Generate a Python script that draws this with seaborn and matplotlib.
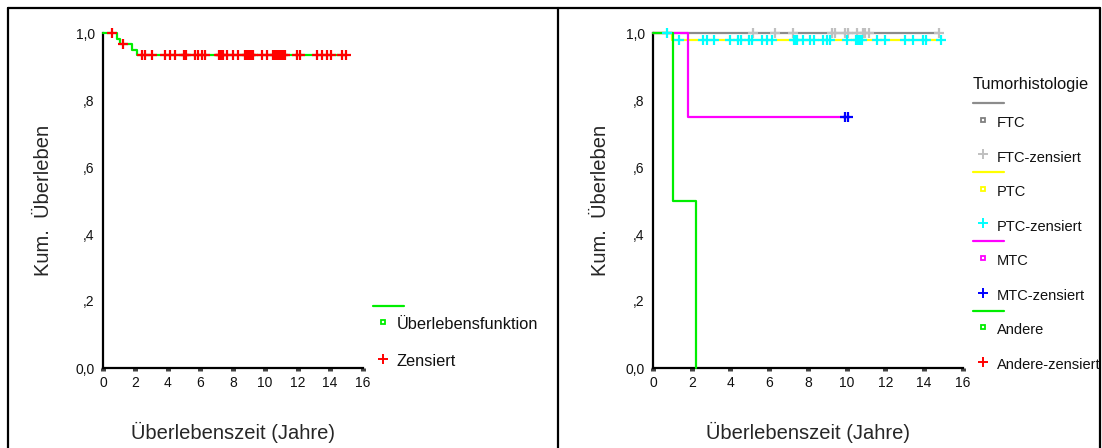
import numpy as np
import matplotlib
matplotlib.use("Agg")
import matplotlib.pyplot as plt
from matplotlib.lines import Line2D
import seaborn as sns

# ---------------- data ----------------
# Left panel: overall survival function (step points) and censored times
all_step_t = [0.0, 0.84, 1.05, 1.80, 2.07, 14.96]
all_step_s = [1.000, 0.983, 0.967, 0.950, 0.933, 0.933]
all_cens_t = [0.57, 1.25, 2.38, 2.60, 3.05, 3.82, 4.13, 4.44, 4.97, 5.03, 5.10,
              5.67, 5.88, 6.12, 6.29, 7.15, 7.22, 7.30, 7.38, 7.63, 8.03, 8.34,
              8.75, 8.85, 8.95, 9.05, 9.15, 9.25, 9.82, 10.09, 10.50, 10.60,
              10.70, 10.80, 10.90, 11.00, 11.10, 11.20, 11.94, 12.15, 13.17,
              13.48, 13.79, 14.06, 14.75, 14.96]

# Right panel: by tumour histology
groups = ["FTC", "PTC", "MTC", "Andere"]
ftc_step_t = [0.0, 14.78]
ftc_step_s = [1.0, 1.0]
ftc_cens_t = [5.17, 6.32, 7.21, 9.25, 9.40, 9.90, 10.07, 10.53, 10.84, 10.95,
              11.16, 14.78]
ptc_step_t = [0.0, 1.00, 14.88]
ptc_step_s = [1.0, 0.978, 0.978]
ptc_cens_t = [0.70, 1.32, 2.60, 2.77, 3.17, 3.98, 4.41, 4.55, 4.98, 5.13, 5.65,
              5.88, 6.17, 7.28, 7.36, 7.44, 7.77, 8.10, 8.34, 8.80, 8.98, 9.15,
              10.00, 10.50, 10.60, 10.70, 10.80, 11.56, 11.99, 13.02, 13.45,
              13.97, 14.09, 14.88]
mtc_step_t = [0.0, 1.83, 10.10]
mtc_step_s = [1.0, 0.75, 0.75]
mtc_cens_t = [9.90, 10.10]
and_step_t = [0.0, 1.05, 2.22]
and_step_s = [1.0, 0.5, 0.0]
and_cens_t = []

x_ticks = [0, 2, 4, 6, 8, 10, 12, 14, 16]
y_ticks = [0.0, 0.2, 0.4, 0.6, 0.8, 1.0]
y_ticklabels = ["0,0", ",2", ",4", ",6", ",8", "1,0"]

# ---------------- style ----------------
sns.set_style("white")
plt.rcParams["font.family"] = ["Liberation Sans", "DejaVu Sans"]

W, H = 1102, 448
fig = plt.figure(figsize=(W / 100, H / 100), dpi=100)


def fx(x):
    return x / W


def fy(y):
    return 1 - y / H


def level_at(step_t, step_s, t):
    idx = np.searchsorted(np.asarray(step_t), np.asarray(t, dtype=float), side="right") - 1
    idx = np.clip(idx, 0, len(step_s) - 1)
    return np.asarray(step_s)[idx]


def make_ax(x0, x1):
    y0, y1 = 368, 33
    ax = fig.add_axes([fx(x0), fy(y0), fx(x1) - fx(x0), fy(y1) - fy(y0)])
    ax.set_xlim(0, 16)
    ax.set_ylim(0, 1)
    for s in ["top", "right"]:
        ax.spines[s].set_visible(False)
    for s in ["left", "bottom"]:
        ax.spines[s].set_color("black")
        ax.spines[s].set_linewidth(1.6)
    ax.set_xticks(x_ticks)
    ax.set_xticklabels([str(t) for t in x_ticks])
    ax.set_yticks(y_ticks)
    ax.set_yticklabels(y_ticklabels)
    ax.tick_params(axis="x", bottom=True, length=2.2, width=3.6, color="#444444",
                   pad=3.5, labelsize=10, labelcolor="#111111", direction="out")
    ax.tick_params(axis="y", left=False, length=0, pad=6, labelsize=10,
                   labelcolor="#111111")
    ax.set_xlabel("Überlebenszeit (Jahre)", fontsize=14.5, va="center")
    ax.set_ylabel("Kum.  Überleben", fontsize=14.5, va="center")
    ax.xaxis.set_label_coords(0.5, (368 - 432) / 335)
    ax.grid(False)
    ax.set_facecolor("white")
    return ax


def draw_group(ax, st, ss, ct, lcolor, ccolor, lz, cz):
    sns.lineplot(x=st, y=ss, ax=ax, color=lcolor, linewidth=1.6,
                 drawstyle="steps-post", estimator=None, sort=False,
                 clip_on=False, zorder=lz, legend=False)
    if len(ct):
        cy = level_at(st, ss, ct)
        sns.scatterplot(x=ct, y=cy, ax=ax, marker="+", s=62, linewidth=1.6,
                        color=ccolor, clip_on=False, zorder=cz, legend=False)


# ---------------- left panel ----------------
axL = make_ax(103, 362.5)
axL.yaxis.set_label_coords((44 - 103) / 259.5, 0.5)
draw_group(axL, all_step_t, all_step_s, all_cens_t, "#00ee00", "#ff0000", 3, 4)

# ---------------- right panel ----------------
axR = make_ax(653, 962.7)
axR.yaxis.set_label_coords((600 - 653) / 309.7, 0.5)
draw_group(axR, ftc_step_t, ftc_step_s, ftc_cens_t, "#8c8c8c", "#c0c0c0", 3, 7)
draw_group(axR, ptc_step_t, ptc_step_s, ptc_cens_t, "#ffff00", "#00ffff", 3.1, 7.1)
draw_group(axR, mtc_step_t, mtc_step_s, mtc_cens_t, "#ff00ff", "#0000ff", 3.2, 7.2)
draw_group(axR, and_step_t, and_step_s, and_cens_t, "#00ee00", "#ff0000", 3.3, 7.3)

# ---------------- legends (SPSS style) ----------------
def leg_line(x0, x1, y, color):
    fig.add_artist(Line2D([fx(x0), fx(x1)], [fy(y), fy(y)], color=color,
                          linewidth=1.6, transform=fig.transFigure))


def leg_marker(x, y, color, marker):
    if marker == "s":
        fig.add_artist(Line2D([fx(x)], [fy(y)], marker="s", markersize=3.2,
                              markerfacecolor="white", markeredgecolor=color,
                              markeredgewidth=1.3, linestyle="none",
                              transform=fig.transFigure))
    else:
        fig.add_artist(Line2D([fx(x)], [fy(y)], marker="+", markersize=6.5,
                              markeredgecolor=color, markeredgewidth=1.4,
                              linestyle="none", transform=fig.transFigure))


def leg_text(x, y, s, size):
    fig.text(fx(x), fy(y), s, fontsize=size, ha="left", va="center",
             color="#111111")


# left legend
leg_line(373, 404, 305.7, "#00ee00")
leg_marker(382.7, 321.5, "#00ee00", "s")
leg_text(396.7, 324.3, "Überlebensfunktion", 11.8)
leg_marker(382.7, 358.5, "#ff0000", "+")
leg_text(396.7, 361.7, "Zensiert", 11.8)

# right legend
fig.text(fx(972.7), fy(84), "Tumorhistologie", fontsize=11.8, ha="left",
         va="center", color="#111111")
leg_colors = [("#8c8c8c", "#808080", "#c0c0c0"),
              ("#ffff00", "#ffff00", "#00ffff"),
              ("#ff00ff", "#ff00ff", "#0000ff"),
              ("#00ee00", "#00ee00", "#ff0000")]
for i, (g, (lc, mc, cc)) in enumerate(zip(groups, leg_colors)):
    base = 103.3 + 69.1 * i
    leg_line(972.7, 1004, base, lc)
    leg_marker(982.7, base + 16.5, mc, "s")
    leg_text(996.7, base + 19.5, g, 10.5)
    leg_marker(982.7, base + 51, cc, "+")
    leg_text(996.7, base + 54.5, g + "-zensiert", 10.5)

# ---------------- outer frame ----------------
frame_kw = dict(color="black", linewidth=1.6, transform=fig.transFigure)
fig.add_artist(Line2D([fx(8), fx(1100)], [fy(8), fy(8)], **frame_kw))
fig.add_artist(Line2D([fx(8), fx(8)], [fy(8), fy(448)], **frame_kw))
fig.add_artist(Line2D([fx(558), fx(558)], [fy(8), fy(448)], **frame_kw))
fig.add_artist(Line2D([fx(1100), fx(1100)], [fy(8), fy(448)], **frame_kw))

fig.savefig("out.png", dpi=100, facecolor="white")
